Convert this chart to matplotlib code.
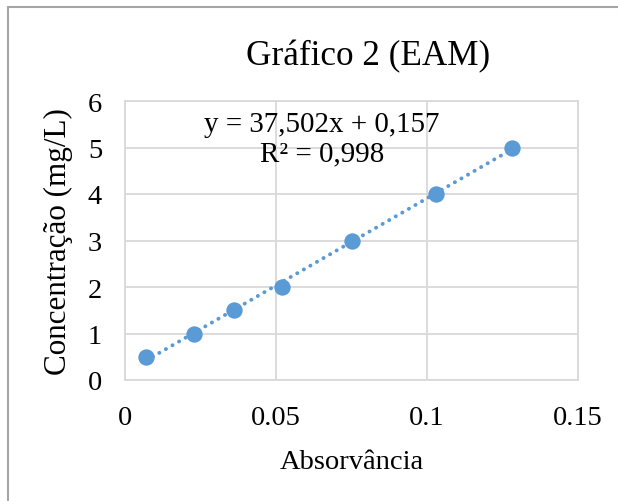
import numpy as np
import matplotlib.pyplot as plt
from matplotlib.patches import Rectangle

# data
absorbance = [0.007, 0.023, 0.036, 0.052, 0.075, 0.103, 0.128]
concentration = [0.5, 1.0, 1.5, 2.0, 3.0, 4.0, 5.0]
slope = 37.502
intercept = 0.157
r2_text = "0,998"
x_ticks = [0, 0.05, 0.1, 0.15]
x_tick_labels = ["0", "0.05", "0.1", "0.15"]
y_ticks = [0, 1, 2, 3, 4, 5, 6]

plt.rcParams['font.family'] = ['Liberation Serif', 'DejaVu Serif']

fig = plt.figure(figsize=(6.18, 5.02), dpi=100)
fig.patch.set_facecolor('white')
# outer chart border (runs off the right / bottom edge as in the screenshot)
fig.patches.append(Rectangle((8 / 618, -0.05), 1.2, 1 - 8 / 502 + 0.05,
                             transform=fig.transFigure, fill=False,
                             edgecolor='#A6A6A6', linewidth=1.5))

ax = fig.add_axes([125 / 618, 1 - 381 / 502, 453 / 618, 279 / 502])

blue = '#5B9BD5'
grid_col = '#D9D9D9'

xs = np.array([min(absorbance), max(absorbance)])
ax.plot(xs, slope * xs + intercept, linestyle=(0, (0.05, 1.9)), color=blue,
        linewidth=2.8, dash_capstyle='round', zorder=2)
ax.plot(absorbance, concentration, 'o', color=blue, markersize=11.8,
        markeredgewidth=0, zorder=3)

ax.set_xlim(0, 0.15)
ax.set_ylim(0, 6)
ax.set_xticks(x_ticks)
ax.set_xticklabels(x_tick_labels)
ax.set_yticks(y_ticks)
ax.grid(True, color=grid_col, linewidth=1.3)
ax.set_axisbelow(True)
for s in ax.spines.values():
    s.set_color(grid_col)
    s.set_linewidth(1.3)
ax.tick_params(length=0, labelsize=20.5, colors='black')
ax.tick_params(axis='x', pad=18)
ax.tick_params(axis='y', pad=16.5)

ax.set_xlabel('Absorvância', fontsize=20.5, labelpad=14)
ax.set_ylabel('Concentração (mg/L)', fontsize=22.4, labelpad=11)
fig.text(368 / 618, 1 - 57 / 502, 'Gráfico 2 (EAM)', fontsize=25.3,
         ha='center', va='center')

ax.text(0.435, 0.865, 'y = 37,502x + 0,157\nR² = ' + r2_text,
        transform=ax.transAxes, ha='center', va='center', fontsize=20.9,
        linespacing=1.15, multialignment='center')

plt.savefig('out.png', dpi=100)
